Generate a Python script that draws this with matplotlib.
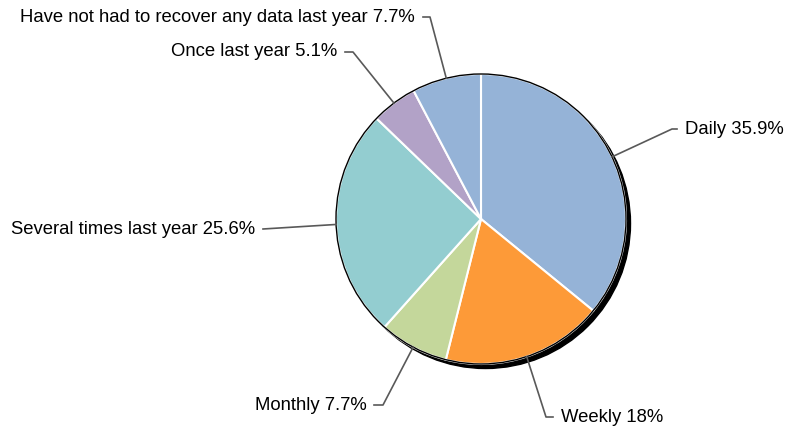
import numpy as np
import matplotlib.pyplot as plt
from matplotlib.patches import Circle

plt.rcParams['font.family'] = ['Liberation Sans', 'DejaVu Sans']

categories = ["Daily", "Weekly", "Monthly", "Several times last year",
              "Once last year", "Have not had to recover any data last year"]
values = [35.9, 18, 7.7, 25.6, 5.1, 7.7]
pct_labels = ["35.9%", "18%", "7.7%", "25.6%", "5.1%", "7.7%"]
colors = ["#95b3d7", "#fd9a38", "#c4d79b", "#93cdd0", "#b2a2c7", "#95b3d7"]

W, H = 786, 432
cx, cy, r = 481, H - 219, 145

# leader elbow, end of horizontal tick, text anchor (pixels from top-left), alignment
label_pos = [
    ((672, 129), 677, (685, 130), "left"),
    ((546, 417), 553, (561, 417), "left"),
    ((383, 405), 374, (367, 406), "right"),
    ((263, 229), 263, (255, 229), "right"),
    ((353, 52), 345, (337, 52), "right"),
    ((430, 17), 423, (415, 17), "right"),
]

fig = plt.figure(figsize=(W / 100, H / 100), dpi=100)
ax = fig.add_axes([0, 0, 1, 1])

# shadow
ax.add_patch(Circle((cx + 4.5, cy - 4.5), r, color="black", zorder=1))

wedges, _ = ax.pie(values, colors=colors, startangle=90, counterclock=False,
                   center=(cx, cy), radius=r, frame=True,
                   wedgeprops=dict(edgecolor="white", linewidth=1.5))
for w in wedges:
    w.set_zorder(2)
ax.add_patch(Circle((cx, cy), r, fill=False, edgecolor="black", lw=1, zorder=3))
ax.set_xlim(0, W)
ax.set_ylim(0, H)
ax.set_aspect("equal")
ax.axis("off")

for w, cat, pl, (elbow, hx, tpos, ha) in zip(wedges, categories, pct_labels, label_pos):
    ang = np.deg2rad((w.theta1 + w.theta2) / 2)
    x0, y0 = cx + r * np.cos(ang), cy + r * np.sin(ang)
    ex, ey = elbow[0], H - elbow[1]
    ax.plot([x0, ex, hx], [y0, ey, ey], color="#595959", lw=1.2, zorder=4)
    ax.text(tpos[0], H - tpos[1], f"{cat} {pl}", ha=ha, va="center",
            fontsize=13.3, color="black")

fig.savefig("out.png", dpi=100)
